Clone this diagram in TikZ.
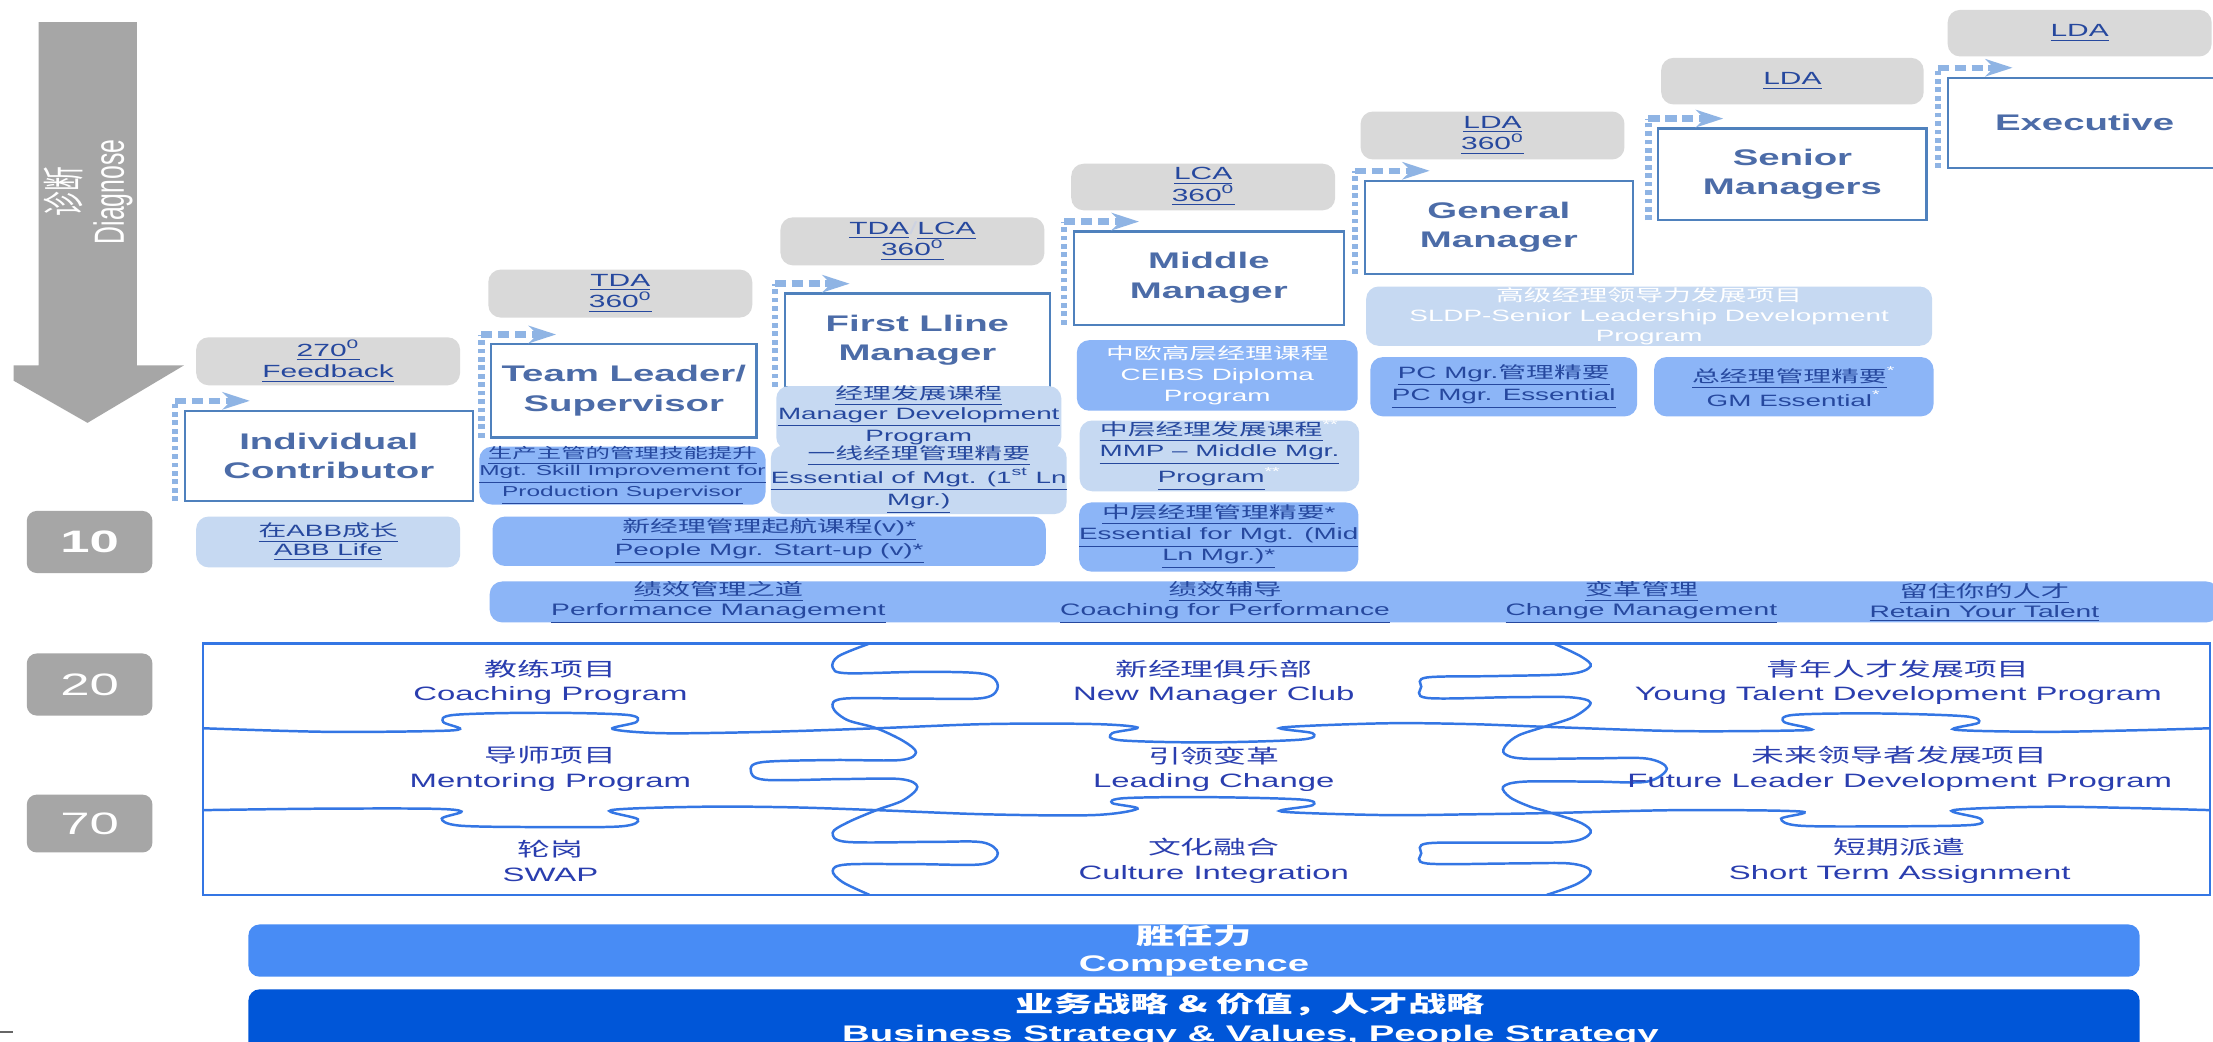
\documentclass[tikz,border=0pt]{standalone}
\usepackage{fontspec}
\setmainfont[FakeStretch=1.7]{Liberation Sans}
\newfontfamily\cjk[FakeStretch=1.7]{Noto Sans CJK SC}
\newfontfamily\plainlat{Liberation Sans}
\newfontfamily\plaincjk{Noto Sans CJK SC}
\usetikzlibrary{calc,arrows.meta}

\definecolor{hdrgray}{RGB}{217,217,217}
\definecolor{numgray}{RGB}{166,166,166}
\definecolor{lightprog}{RGB}{198,217,242}
\definecolor{midprog}{RGB}{140,181,247}
\definecolor{lvlline}{RGB}{79,129,189}
\definecolor{lvltext}{RGB}{76,108,168}
\definecolor{linkblue}{RGB}{38,72,158}
\definecolor{dotblue}{RGB}{143,180,228}
\definecolor{puzline}{RGB}{52,118,228}
\definecolor{puztext}{RGB}{42,62,175}
\definecolor{compblue}{RGB}{72,140,245}
\definecolor{bizblue}{RGB}{0,86,216}
\definecolor{faint}{RGB}{205,210,225}

\newcommand\lnk[1]{\underline{#1}}
% box given by its corners (x1,y1)-(x2,y2) in picture units
\newcommand\placebox[7]{\node[#1, minimum width={(#4-#2)*0.02cm}, minimum height={(#5-#3)*0.02cm}] (#6) at ({(#2+#4)/2},{(#3+#5)/2}) {#7};}

\tikzset{
  base/.style={inner sep=0pt, outer sep=0pt, align=center},
  hdr/.style={base, fill=hdrgray, rounded corners=5pt, text=linkblue, font=\fontsize{7.1}{8.6}\selectfont},
  lvl/.style={base, draw=lvlline, line width=0.9pt, fill=white, text=lvltext, font=\fontsize{9.1}{12}\selectfont\bfseries},
  prl/.style={base, fill=lightprog, rounded corners=5pt, text=linkblue, font=\fontsize{6.6}{7.7}\selectfont},
  prm/.style={prl, fill=midprog},
  tall/.style={font=\fontsize{6.6}{8.4}\selectfont},
  num/.style={base, fill=numgray, rounded corners=4pt, text=white, font=\fontsize{12.5}{14}\selectfont},
  bartext/.style={base, text=linkblue, font=\fontsize{6.7}{8}\selectfont},
  puz/.style={base, text=puztext, font=\fontsize{7.8}{10}\selectfont},
  puzedge/.style={draw=puzline, line width=1pt},
  vdots/.style={draw=dotblue, line width=2.6pt, dash pattern=on 1.9pt off 1.5pt},
  hdots/.style={draw=dotblue, line width=2.6pt, dash pattern=on 4.5pt off 2.3pt,
    -{Stealth[length=11pt,width=7pt,inset=3.5pt]}},
  strip/.style={base, rounded corners=4.5pt, text=white, font=\fontsize{9.1}{10.8}\selectfont\bfseries},
}

\begin{document}
\begin{tikzpicture}[x=0.02cm, y=-0.02cm]
\path[use as bounding box] (0,0) rectangle (1568,738);
\clip (0,0) rectangle (1568,738);
\fill[white] (0,0) rectangle (1568,738);

% diagnose arrow
\fill[numgray] (27.3,15.7) -- (96.9,15.7) -- (96.9,258.9) -- (130.3,258.9) -- (62,299.6)
  -- (9.6,269.7) -- (9.6,258.9) -- (27.3,258.9) -- cycle;
\node[rotate=90, text=white, font=\fontsize{10}{12}\selectfont] (dg1) at (45,136) {\scalebox{1}[1.7]{\plaincjk 诊断}};
\node[rotate=90, text=white, font=\fontsize{10}{12}\selectfont] (dg2) at (80,136) {\scalebox{1}[1.7]{\plainlat Diagnose}};

% assessment headers
\placebox{hdr}{139}{239}{326}{273}{fb}{\lnk{270\textsuperscript{0}}\\\lnk{Feedback}}
\placebox{hdr}{346}{191}{533}{225}{tda}{\lnk{TDA}\\\lnk{360\textsuperscript{0}}}
\placebox{hdr}{553}{154}{740}{188}{tdalca}{\lnk{TDA}{\color{faint}/}\lnk{LCA}\\\lnk{360\textsuperscript{0}}}
\placebox{hdr}{759}{116}{946}{149}{lca}{\lnk{LCA}\\\lnk{360\textsuperscript{0}}}
\placebox{hdr}{964}{79}{1151}{113}{ldaa}{\lnk{LDA}\\\lnk{360\textsuperscript{0}}}
\placebox{hdr}{1177}{41}{1363}{74}{ldab}{\lnk{LDA}}
\placebox{hdr}{1380}{7}{1567}{40}{ldac}{\lnk{LDA}}

% career levels
\placebox{lvl}{131}{291}{335}{355}{ic}{Individual\\Contributor}
\placebox{lvl}{348}{244}{536}{310}{tl}{Team Leader/\\Supervisor}
\placebox{lvl}{556}{208}{744}{274}{flm}{First Lline\\Manager}
\placebox{lvl}{761}{164}{952}{230}{mm}{Middle\\Manager}
\placebox{lvl}{967}{128}{1157}{194}{gm}{General\\Manager}
\placebox{lvl}{1175}{91}{1365}{156}{sm}{Senior\\Managers}
\placebox{lvl}{1380}{55}{1574}{119}{ex}{Executive}

% dotted step arrows
\foreach \n in {ic,tl,flm,mm,gm,sm,ex}{
  \coordinate (\n-b) at ($(\n.south west)+(-7,0)$);
  \coordinate (\n-c) at ($(\n.north west)+(-7,-7)$);
  \coordinate (\n-t) at ($(\n.north west)+(46,-7)$);
  \draw[vdots] (\n-b) -- (\n-c);
  \draw[hdots] (\n-c) -- (\n-t);
}

% programmes
\placebox{prl}{139}{366}{326}{402}{abb}{\lnk{{\cjk 在}ABB{\cjk 成长}}\\\lnk{ABB Life}}
\placebox{prm,font=\fontsize{5.8}{6.8}\selectfont}{341}{317}{541}{357}{skill}{\lnk{\cjk 生产主管的管理技能提升}\\\lnk{Mgt. Skill Improvement for}\\\lnk{Production Supervisor}}
\placebox{prm}{349}{366}{741}{401}{pstart}{\lnk{{\cjk 新经理管理起航课程}(v)*}\\\lnk{People Mgr. Start-up (v)*}}
\placebox{prl}{550}{276}{752}{316}{mdp}{\lnk{\cjk 经理发展课程}\\\lnk{Manager Development}\\\lnk{Program}}
\placebox{prl}{550}{320}{752}{360}{essa}{\lnk{\cjk 一线经理管理精要}\\\lnk{Essential of Mgt. (1\textsuperscript{st} Ln}\\\lnk{Mgr.)}}
\placebox{prm,tall,text=white}{763}{241}{962}{291}{ceibs}{{\cjk 中欧高层经理课程}\\CEIBS Diploma\\Program}
\placebox{prl,tall}{765}{298}{963}{348}{mmp}{\lnk{\cjk 中层经理发展课程}\textsuperscript{\color{white}**}\\\lnk{MMP -- Middle Mgr.}\\\lnk{Program}\textsuperscript{\color{white}**}}
\placebox{prm,tall}{765}{356}{962}{405}{essb}{\lnk{{\cjk 中层经理管理精要}*}\\\lnk{Essential for Mgt. (Mid}\\\lnk{Ln Mgr.)*}}
\placebox{prl,text=white,font=\fontsize{6.6}{8}\selectfont}{968}{203}{1369}{245}{sldp}{{\cjk 高级经理领导力发展项目}\\SLDP-Senior Leadership Development\\Program}
\placebox{prm}{971}{253}{1160}{295}{pcm}{\lnk{PC Mgr.{\cjk 管理精要}}\\\lnk{PC Mgr. Essential}}
\placebox{prm}{1172}{253}{1370}{295}{gmess}{\lnk{\cjk 总经理管理精要}\textsuperscript{\color{white}*}\\GM Essential\textsuperscript{\color{white}*}}

% shared programme strip
\placebox{prm}{347}{412}{1572}{441}{bar}{}
\node[bartext] (bara) at (509,427) {\lnk{\cjk 绩效管理之道}\\\lnk{Performance Management}};
\node[bartext] (barb) at (868,427) {\lnk{\cjk 绩效辅导}\\\lnk{Coaching for Performance}};
\node[bartext] (barc) at (1163,427) {\lnk{\cjk 变革管理}\\\lnk{Change Management}};
\node[bartext] (bard) at (1406,427) {\lnk{\cjk 留住你的人才}\\\lnk{Retain Your Talent}};

% 10 / 20 / 70
\placebox{num,font=\fontsize{12.5}{14}\selectfont\bfseries}{19}{362}{108}{406}{na}{10}
\placebox{num}{19}{463}{108}{507}{nb}{20}
\placebox{num}{19}{563}{108}{604}{nc}{70}

% puzzle of on-the-job learning
\draw[puzedge] (144,456) rectangle (1566,634);
\draw[puzedge] plot[smooth, tension=0.55] coordinates {
  (144,516) (230,518.5) (305,518) (326,516.5) (314,511.5) (322,506.5) (383,505) (444,506.5)
  (451,511.5) (434,516.5) (470,519.5) (545,518.5) (621,516) (700,513) (775,513) (806,515.5)
  (788,519.5) (794,524.5) (856,526) (922,524) (930,519.5) (908,515.5) (980,512.5) (1040,513)
  (1096,515) (1190,518) (1275,517.5) (1281,515.8) (1264,511.5) (1271,506.5) (1330,505.5)
  (1392,507.5) (1402,512) (1385,517) (1448,518.5) (1510,517.5) (1566,516)};
\draw[puzedge] plot[smooth, tension=0.55] coordinates {
  (144,574) (224,573) (305,573) (327,575) (313,580) (326,585) (383,586) (440,585.5) (452,580.5)
  (433,574) (497,571.6) (560,572) (621,574) (700,577) (775,577.5) (806,573) (788,569) (797,565.5)
  (856,564.8) (922,566.5) (930,570.5) (908,575) (980,577.5) (1040,577) (1101,576) (1190,574)
  (1276,575) (1262,580) (1275,585) (1335,585.5) (1397,584.5) (1403,580) (1384,574) (1448,571.6)
  (1510,572.5) (1566,574)};
\draw[puzedge] plot[smooth, tension=0.55] coordinates {
  (616,456) (594,465) (590,473) (600,477) (655,476) (697,477.5) (707,486) (697,494.5)
  (650,495) (598,495) (590,501) (600,510) (621,516) (640,525) (649,533) (638,538.5) (590,538.5)
  (540,540) (532,546) (542,552.5) (597,552) (638,552) (650,557.5) (640,567) (621,574) (600,583)
  (590,590) (600,596.5) (660,596.5) (696,596.8) (707,604.5) (696,612.3) (650,612.3) (600,612.5)
  (590,617) (597,625) (616,634)};
\draw[puzedge] plot[smooth, tension=0.55] coordinates {
  (1101,456) (1120,465) (1127,472) (1112,477.5) (1060,479) (1011,480) (1007,486.5) (1011,494.5)
  (1070,494) (1112,494) (1127,498) (1115,508) (1094,515) (1076,521) (1067,528) (1066,534)
  (1080,537.5) (1130,537.3) (1167,537.5) (1181,544.5) (1167,553.8) (1130,553.8) (1080,553.8)
  (1065,557.5) (1070,565) (1084,571.5) (1096,575) (1120,583) (1127,590) (1112,596.4) (1060,597)
  (1011,597.6) (1007,604.5) (1011,611.8) (1070,611.8) (1112,611.8) (1127,617) (1118,626) (1096,634)};

\node[puz] (pa) at (390,483.5) {{\cjk 教练项目}\\Coaching Program};
\node[puz] (pb) at (860,483.5) {{\cjk 新经理俱乐部}\\New Manager Club};
\node[puz] (pc) at (1345,483.5) {{\cjk 青年人才发展项目}\\Young Talent Development Program};
\node[puz] (pd) at (390,545) {{\cjk 导师项目}\\Mentoring Program};
\node[puz] (pe) at (860,545) {{\cjk 引领变革}\\Leading Change};
\node[puz] (pf) at (1346,545) {{\cjk 未来领导者发展项目}\\Future Leader Development Program};
\node[puz] (pg) at (390,610) {{\cjk 轮岗}\\SWAP};
\node[puz] (ph) at (860,610) {{\cjk 文化融合}\\Culture Integration};
\node[puz] (pi) at (1346,610) {{\cjk 短期派遣}\\Short Term Assignment};

% foundation strips
\placebox{strip,fill=compblue}{176}{655}{1516}{692}{comp}{{\cjk\bfseries 胜任力}\\Competence}
\placebox{strip,fill=bizblue}{176}{701}{1516}{752}{biz}{}
\node[strip, font=\fontsize{9.1}{11.4}\selectfont\bfseries] (biztext) at (886,722.5) {{\cjk\bfseries 业务战略 \& 价值，人才战略}\\Business Strategy \& Values, People Strategy};

\draw[black!60, line width=0.8pt] (0,731) -- (9,731);
\end{tikzpicture}
\end{document}
